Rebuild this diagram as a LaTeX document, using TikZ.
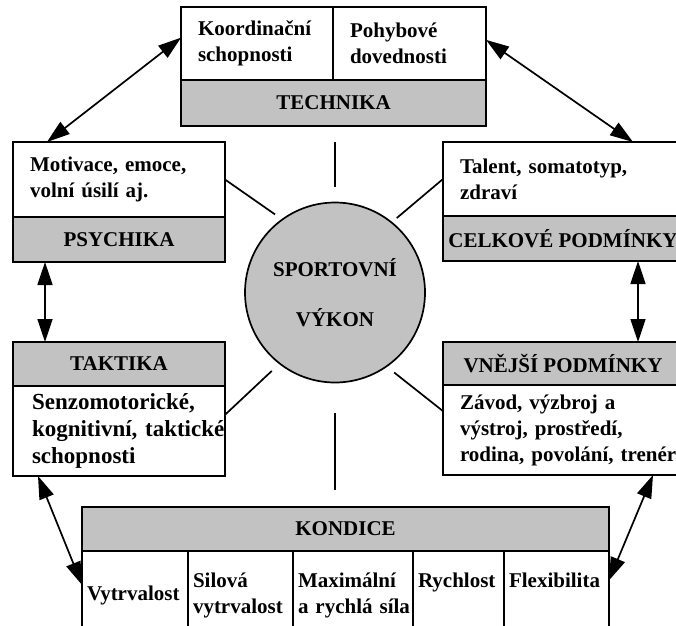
\documentclass[tikz,border=0pt]{standalone}
\usepackage{fontspec}
\setmainfont{Liberation Serif}
\usetikzlibrary{positioning,calc,arrows.meta}
\colorlet{shade}{black!24}
\newcommand{\boldtxt}{\fontsize{21}{26}\selectfont\bfseries}
\newcommand{\bigtxt}{\fontsize{23}{27}\selectfont\bfseries}
\tikzset{
  box/.style={draw, line width=1.7pt, outer sep=0pt, inner ysep=0pt},
  txt/.style={box, align=left, inner xsep=17pt},
  head/.style={box, fill=shade, align=center, inner xsep=0pt},
  cell/.style={box, align=left, inner xsep=5pt, minimum height=89pt, anchor=north west},
  ray/.style={line width=1.7pt},
  dbl/.style={line width=1.7pt, {Triangle[length=23pt,width=15pt]}-{Triangle[length=23pt,width=15pt]}}
}

\begin{document}
\begin{tikzpicture}[x=1pt,y=-1pt,font=\boldtxt]
\useasboundingbox (0,0) rectangle (676,625);
\clip (0,0) rectangle (676,625);
\node[txt, text width=118pt, minimum height=73pt, anchor=north west] (koord) at (181,7) {Koordinační\\schopnosti};
\node[txt, text width=119pt, minimum height=73pt, right=0pt of koord] (pohyb) {Pohybové\\dovednosti};
\node[head, minimum width=305pt, minimum height=46pt, anchor=north west] (tech) at (koord.south west) {TECHNIKA};
\node[txt, text width=178pt, minimum height=75pt, anchor=north west] (psyb) at (13,142) {Motivace, emoce,\\volní úsilí aj.};
\node[head, minimum width=212pt, minimum height=45pt, below=0pt of psyb] (psyh) {PSYCHIKA};
\node[txt, text width=206pt, minimum height=74pt, anchor=north west] (celkb) at (443,142) {Talent, somatotyp,\\zdraví};
\node[head, minimum width=240pt, minimum height=45pt, below=0pt of celkb] (celkh) {CELKOVÉ PODMÍNKY};
\node[head, minimum width=212pt, minimum height=44pt, anchor=north west] (takth) at (13,342) {TAKTIKA};
\node[txt, font=\bigtxt, inner xsep=19pt, text width=174pt, minimum height=90pt, below=0pt of takth] (taktb) {Senzomotorické,\\\mbox{kognitivní, taktické}\\schopnosti};
\node[head, minimum width=240pt, minimum height=43pt, anchor=north west] (vnejh) at (443,342) {VNĚJŠÍ PODMÍNKY};
\node[txt, text width=216pt, minimum height=90pt, anchor=north west] (vnejb) at (vnejh.south west) {Závod, výzbroj a\\výstroj, prostředí,\\\mbox{rodina, povolání, trenér}};
\node[circle, draw, line width=1.7pt, fill=shade, minimum size=180pt, inner sep=0pt, align=center] (circ) at (335,292.5) {SPORTOVNÍ\\[24pt]VÝKON};
\node[head, minimum width=527pt, minimum height=44pt, anchor=north west] (kond) at (82,507) {KONDICE};
\node[cell, text width=96pt] (vytr) at (kond.south west) {\mbox{Vytrvalost}};
\node[cell, text width=95pt, right=0pt of vytr] (silova) {Silová\\vytrvalost};
\node[cell, text width=110pt, right=0pt of silova] (maxim) {Maximální\\\mbox{a rychlá síla}};
\node[cell, text width=81pt, right=0pt of maxim] (rychl) {Rychlost\\\phantom{y}};
\node[cell, text width=95pt, right=0pt of rychl] (flex) {Flexibilita\\\phantom{y}};
\draw[ray, shorten <=15pt, shorten >=16pt] (circ.north) -- (circ.north |- tech.south);
\draw[ray, shorten <=30pt, shorten >=17pt] (circ.south) -- (circ.south |- kond.north);
\draw[ray, shorten <=8pt] (circ.126) -- (psyb.east);
\draw[ray, shorten <=6pt] (circ.51) -- (celkb.west);
\draw[ray, shorten <=10pt] (circ.232) -- ($(taktb.north east)!0.32!(taktb.south east)$);
\draw[ray, shorten <=9pt] (circ.-55) -- ($(vnejb.north west)!0.29!(vnejb.south west)$);
\draw[dbl] ($(koord.north west)!0.42!(koord.south west)$) -- ($(psyb.north west)!0.16!(psyb.north east)$);
\draw[dbl] ($(pohyb.north east)!0.45!(pohyb.south east)$) -- ($(celkb.north west)+(190,0)$);
\draw[dbl] ($(psyh.south west)+(32,0)$) -- ($(takth.north west)+(32,0)$);
\draw[dbl] ($(celkh.south west)+(195,0)$) -- ($(vnejh.north west)+(195,0)$);
\draw[dbl] ($(taktb.south west)+(25,0)$) -- ($(vytr.north west)!0.38!(vytr.south west)$);
\draw[dbl] ($(vnejb.south west)+(210,0)$) -- ($(flex.north east)!0.33!(flex.south east)$);
\end{tikzpicture}
\end{document}
